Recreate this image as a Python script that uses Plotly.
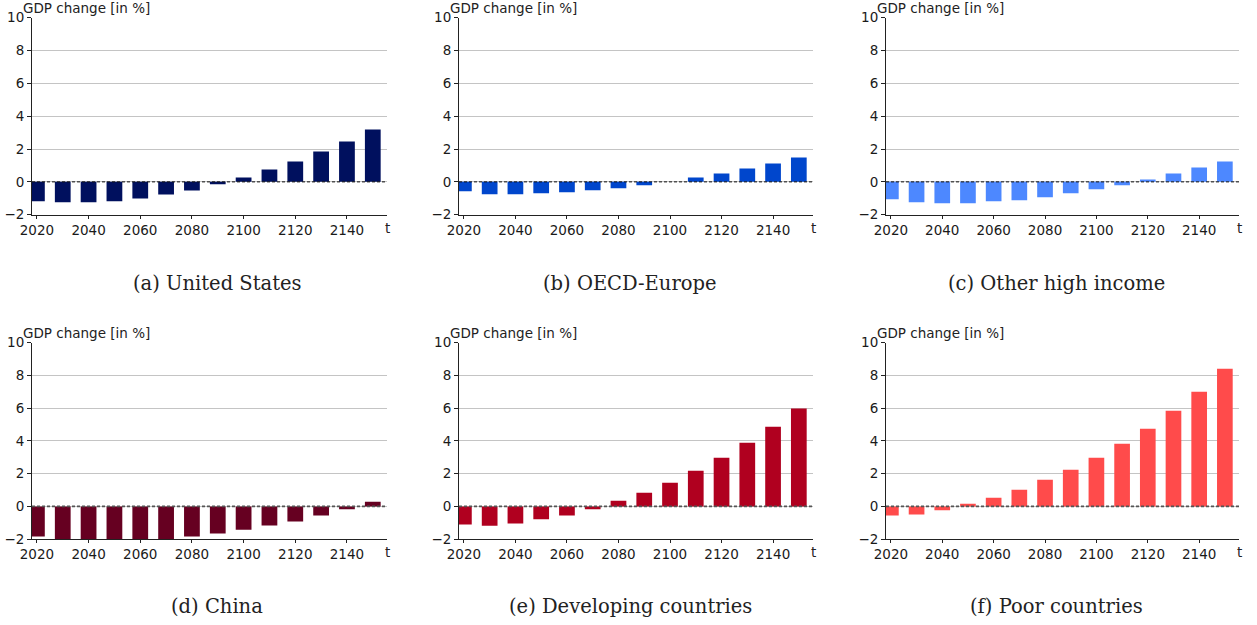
import plotly.graph_objects as go

years = [2020, 2030, 2040, 2050, 2060, 2070, 2080, 2090, 2100, 2110, 2120, 2130, 2140, 2150]

united_states = [-1.18, -1.24, -1.24, -1.18, -1.02, -0.77, -0.53, -0.14, 0.26, 0.75, 1.24, 1.85, 2.46, 3.19]
oecd_europe = [-0.57, -0.75, -0.75, -0.69, -0.63, -0.51, -0.39, -0.20, 0.0, 0.26, 0.51, 0.81, 1.12, 1.48]
other_high_income = [-1.06, -1.24, -1.30, -1.30, -1.18, -1.12, -0.94, -0.69, -0.45, -0.20, 0.14, 0.51, 0.87, 1.24]
china = [-1.83, -2.2, -2.2, -2.2, -2.2, -2.1, -1.83, -1.65, -1.42, -1.16, -0.92, -0.55, -0.18, 0.28]
developing = [-1.10, -1.18, -1.04, -0.79, -0.55, -0.18, 0.35, 0.83, 1.44, 2.18, 2.97, 3.88, 4.86, 5.98]
poor = [-0.55, -0.49, -0.24, 0.16, 0.53, 1.02, 1.63, 2.24, 2.97, 3.82, 4.74, 5.84, 7.00, 8.40]

captions = ["(a) United States", "(b) OECD-Europe", "(c) Other high income",
            "(d) China", "(e) Developing countries", "(f) Poor countries"]
series = [united_states, oecd_europe, other_high_income, china, developing, poor]
colors = ["#00105E", "#0046CC", "#4D88FF", "#660021", "#B0001F", "#FF4B4B"]

y_axis_title = "GDP change [in %]"
x_ticks = [2020, 2040, 2060, 2080, 2100, 2120, 2140]
y_ticks = [-2, 0, 2, 4, 6, 8, 10]

W, H = 1257, 625
col_px = [(32, 387), (459, 813), (886, 1239)]
row_px = [(17.7, 214.7), (342.5, 539.2)]
caption_px = [(217, 283), (630, 283), (1056, 283), (217, 606), (630, 606), (1056, 606)]
zero_line_styles = [dict(color="#111", width=1, dash="3px,2px"), dict(color="#555", width=1.6, dash="3px,2px")]

fig = go.Figure()
layout = dict(
    template="none",
    width=W, height=H, margin=dict(l=0, r=0, t=0, b=0, pad=0), autosize=False,
    plot_bgcolor="white", paper_bgcolor="white", showlegend=False,
    font=dict(family="DejaVu Sans", size=13, color="#222222"),
    annotations=[], shapes=[],
)

for i, (vals, col) in enumerate(zip(series, colors)):
    r, c = divmod(i, 3)
    n = i + 1
    xa = "xaxis" if n == 1 else f"xaxis{n}"
    ya = "yaxis" if n == 1 else f"yaxis{n}"
    xr = "x" if n == 1 else f"x{n}"
    yr = "y" if n == 1 else f"y{n}"
    x0, x1 = col_px[c]
    ytop, ybot = row_px[r]
    layout[xa] = dict(
        domain=[x0 / W, x1 / W], range=[2018.1, 2155.5], anchor=yr, automargin=False,
        tickvals=x_ticks, ticks="outside", ticklen=3, tickwidth=1, tickcolor="#222",
        showline=True, linecolor="#222", linewidth=1, showgrid=False, zeroline=False,
        tickfont=dict(size=13.5, color="#1a1a1a"),
    )
    layout[ya] = dict(
        domain=[1 - ybot / H, 1 - ytop / H], range=[-2, 10], anchor=xr, automargin=False,
        tickvals=y_ticks, ticks="outside", ticklen=4, tickwidth=1, tickcolor="#222",
        showline=True, linecolor="#222", linewidth=1,
        showgrid=True, gridcolor="#C4C4C4", gridwidth=1, zeroline=False,
        tickfont=dict(size=13.5, color="#1a1a1a"),
    )
    fig.add_trace(go.Bar(x=years, y=vals, width=6.1, marker=dict(color=col, line=dict(width=0)),
                         xaxis=xr, yaxis=yr))
    layout["shapes"].append(dict(type="line", xref=f"{xr} domain", yref=yr, x0=0, x1=1, y0=0, y1=0,
                                 line=zero_line_styles[r]))
    layout["annotations"].append(dict(text=y_axis_title, xref=f"{xr} domain", yref=f"{yr} domain",
                                      x=0, y=1, xanchor="left", yanchor="bottom", xshift=-11, yshift=0,
                                      showarrow=False, font=dict(size=13.5, color="#222")))
    layout["annotations"].append(dict(text="t", xref=f"{xr} domain", yref=f"{yr} domain",
                                      x=1, y=0, xanchor="center", yanchor="middle", yshift=-13,
                                      showarrow=False, font=dict(size=13.5, color="#222")))
    cx, cy = caption_px[i]
    layout["annotations"].append(dict(text=captions[i], xref="paper", yref="paper",
                                      x=cx / W, y=1 - cy / H, xanchor="center", yanchor="middle",
                                      showarrow=False,
                                      font=dict(family="DejaVu Serif", size=19.5, color="#222")))

fig.update_layout(**layout)
fig.write_html("out.html", config={"displayModeBar": False},
               post_script="document.body.style.margin='0';document.body.style.padding='0';")
